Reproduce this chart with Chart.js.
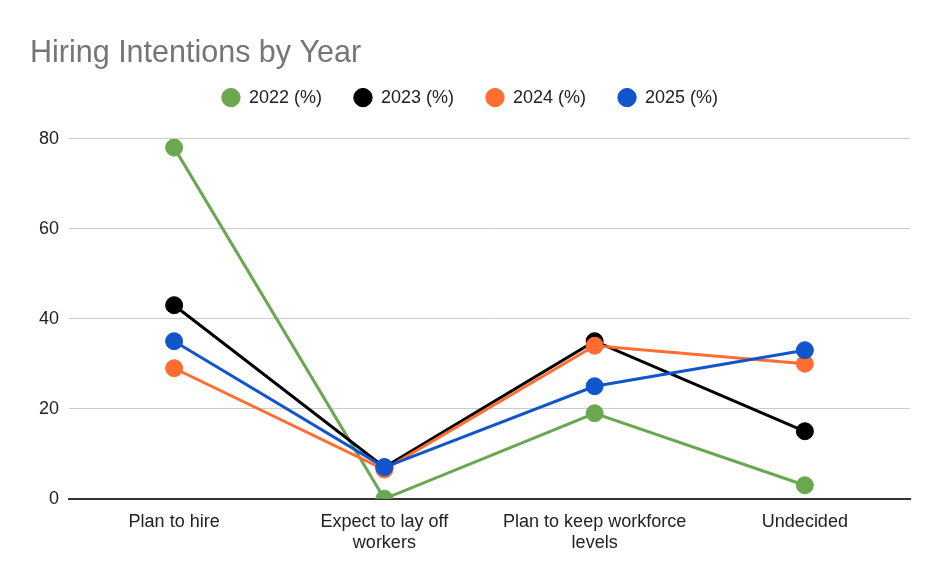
<!DOCTYPE html>
<html>
<head>
<meta charset="utf-8">
<script src="https://cdn.jsdelivr.net/npm/chart.js@4.4.0/dist/chart.umd.min.js"></script>
<style>
html,body{margin:0;padding:0;background:#fff;}
#wrap{width:940px;height:581px;position:relative;}
</style>
</head>
<body>
<div id="wrap"><canvas id="c" width="940" height="581"></canvas></div>
<script>
const categories = [["Plan to hire"], ["Expect to lay off", "workers"], ["Plan to keep workforce", "levels"], ["Undecided"]];
const seriesNames = ["2022 (%)", "2023 (%)", "2024 (%)", "2025 (%)"];
const values2022 = [78, 0, 19, 3];
const values2023 = [43, 7, 35, 15];
const values2024 = [29, 6.5, 34, 30];
const values2025 = [35, 7, 25, 33];
const yTicks = [0, 20, 40, 60, 80];
const colors = ["#6aa84f", "#000000", "#ff6d31", "#1155cc"];

const allValues = [values2022, values2023, values2024, values2025];
const datasets = allValues.map((v, i) => ({
  label: seriesNames[i],
  data: v,
  borderColor: colors[i],
  backgroundColor: colors[i],
  pointBackgroundColor: colors[i],
  pointBorderColor: colors[i],
  borderWidth: 3,
  pointRadius: 8.5,
  pointHoverRadius: 8.5,
  pointBorderWidth: 1,
  tension: 0,
  fill: false,
  order: 4 - i
}));

const FONT = "'Liberation Sans', Arial, sans-serif";

const legendMargin = {
  id: 'legendMargin',
  beforeInit(chart) {
    const lg = chart.legend;
    if (!lg) return;
    const orig = lg.fit;
    lg.fit = function () { orig.call(this); this.height += 22; };
  }
};

new Chart(document.getElementById('c'), {
  type: 'line',
  data: { labels: categories, datasets: datasets },
  plugins: [legendMargin],
  options: {
    responsive: false,
    animation: false,
    devicePixelRatio: 1,
    layout: { padding: { left: 30, right: 30, top: 35, bottom: 15 } },
    plugins: {
      tooltip: { enabled: false },
      title: {
        display: true,
        text: 'Hiring Intentions by Year',
        align: 'start',
        color: '#757575',
        font: { family: FONT, size: 30.5, weight: 'normal' },
        padding: { top: 0, bottom: -15 }
      },
      legend: {
        display: true,
        position: 'top',
        align: 'center',
        labels: {
          usePointStyle: true,
          pointStyle: 'circle',
          boxWidth: 18,
          boxHeight: 13,
          padding: 32,
          color: '#222',
          font: { family: FONT, size: 18 },
          sort: (a, b) => a.datasetIndex - b.datasetIndex
        }
      }
    },
    scales: {
      x: {
        offset: true,
        grid: { display: false, drawTicks: false },
        border: { display: true, color: '#333', width: 2 },
        ticks: {
          color: '#222',
          padding: 12,
          maxRotation: 0,
          autoSkip: false,
          font: { family: FONT, size: 18, lineHeight: 1.2 }
        }
      },
      y: {
        min: 0,
        max: 80,
        afterFit: (s) => { s.width = 39; },
        afterBuildTicks: (s) => { s.ticks = yTicks.map(v => ({ value: v })); },
        grid: { color: (ctx) => ctx.tick && ctx.tick.value === 0 ? 'rgba(0,0,0,0)' : '#cccccc', lineWidth: 1, drawTicks: false },
        border: { display: false },
        ticks: {
          color: '#222',
          padding: 10,
          font: { family: FONT, size: 18 }
        }
      }
    }
  }
});
</script>
</body>
</html>
